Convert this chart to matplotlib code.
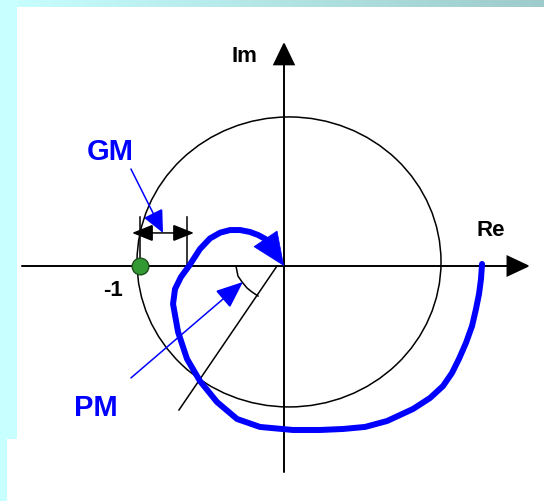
import numpy as np
import matplotlib.pyplot as plt
from matplotlib.patches import Ellipse, FancyArrowPatch

plt.rcParams['font.family'] = ['Liberation Sans', 'DejaVu Sans']

# Nyquist curve (Re, Im), clockwise from the right end
nyq_re = [1.303, 1.296, 1.283, 1.263, 1.237, 1.197, 1.151, 1.105, 1.046, 0.961,
          0.849, 0.678, 0.533, 0.388, 0.237, 0.059, -0.158, -0.309, -0.441, -0.553,
          -0.638, -0.697, -0.730, -0.717, -0.678, -0.625, -0.553, -0.487, -0.420,
          -0.355, -0.289, -0.225, -0.171, -0.120]
nyq_im = [0.014, -0.090, -0.193, -0.297, -0.414, -0.531, -0.641, -0.738, -0.828, -0.910,
          -0.986, -1.069, -1.110, -1.124, -1.131, -1.131, -1.110, -1.055, -0.938, -0.793,
          -0.641, -0.455, -0.262, -0.159, -0.076, 0.000, 0.117, 0.190, 0.230,
          0.248, 0.248, 0.235, 0.214, 0.185]
nyq_end = (0.0, 0.0)

# unit circle (slightly off centre in the drawing)
circ_c = (0.033, 0.028)
crit = (-0.95, 0.0)

# phase margin line and arc
pm_line_re = [-0.046, -0.691]
pm_line_im = [0.0, -0.993]
pm_arc_re = [-0.316, -0.303, -0.276, -0.243, -0.211, -0.171]
pm_arc_im = [0.0, -0.069, -0.110, -0.152, -0.179, -0.207]

# gain margin bracket
gm_left, gm_right = -0.947, -0.638
gm_top, gm_left_bot = 0.338, 0.048
gm_arrow_y, gm_arrow_x0, gm_arrow_x1 = 0.228, -1.0, -0.592

# pointer arrows for the labels
gm_ptr = [(-1.007, 0.669), (-0.796, 0.228)]
pm_ptr = [(-1.007, -0.772), (-0.270, -0.110)]

W, H = 544, 502
fig = plt.figure(figsize=(W / 100, H / 100), dpi=100)

# slide background: cyan strip on the left, gradient strip on top
bg = np.ones((H, W, 3))
grad = np.linspace(0, 1, W)[:, None]
top = (1 - grad) * np.array([200, 255, 255]) / 255 + grad * np.array([158, 203, 203]) / 255
bg[:8, :, :] = top[None, :, :]
bg[:440, :17, :] = np.array([200, 255, 255]) / 255
bg[440:, :7, :] = np.array([200, 255, 255]) / 255
bax = fig.add_axes([0, 0, 1, 1], zorder=0)
bax.imshow(bg, aspect='auto', interpolation='nearest')
bax.axis('off')

ax = fig.add_axes([0, 0, 1, 1], zorder=1)
ax.patch.set_alpha(0)
ax.set_xlim(-284 / 152, (W - 284) / 152)
ax.set_ylim((267 - H) / 145, 267 / 145)
ax.axis('off')

blue = '#0000ff'


def arrow(p0, p1, color, lw, hl, hw, style='-|>', z=3):
    a = FancyArrowPatch(p0, p1, arrowstyle=f'{style},head_length={hl},head_width={hw}',
                        mutation_scale=1, shrinkA=0, shrinkB=0, color=color, lw=lw,
                        joinstyle='miter', zorder=z)
    ax.add_patch(a)


# axes with arrows
arrow((-1.724, 0), (1.618, 0), 'black', 1.4, 14.5, 6.8)
arrow((0, -1.421), (0, 1.545), 'black', 1.4, 14.5, 7.0)

ax.add_patch(Ellipse(circ_c, 2, 2, fill=False, ec='black', lw=1.1, zorder=2))

# PM construction
ax.plot(pm_line_re, pm_line_im, color='black', lw=1.1, zorder=2)
ax.plot(pm_arc_re, pm_arc_im, color='black', lw=1.1, zorder=2)

# GM bracket
ax.plot([gm_left, gm_left], [gm_left_bot, gm_top], color='black', lw=1.1, zorder=2)
ax.plot([gm_right, gm_right], [0, gm_top], color='black', lw=1.1, zorder=2)
arrow((gm_arrow_x0, gm_arrow_y), (gm_arrow_x1, gm_arrow_y), 'black', 1.1, 13, 5.2,
      style='<|-|>')

# Nyquist curve with the end arrow
ax.plot(nyq_re, nyq_im, color=blue, lw=4.3, solid_capstyle='round',
        solid_joinstyle='round', zorder=4)
arrow((nyq_re[-1], nyq_im[-1]), nyq_end, blue, 0.5, 23, 10, z=5)

# critical point
ax.plot(*crit, 'o', ms=12, mfc='#339933', mec='#1f4f1f', mew=1.0, zorder=6)

# label pointers
arrow(gm_ptr[0], gm_ptr[1], blue, 1.1, 14, 6.5)
arrow(pm_ptr[0], pm_ptr[1], blue, 1.1, 17, 7)

# labels
ax.text(-0.263, 1.455, 'Im', fontsize=16, fontweight='bold', ha='center', va='center')
ax.text(1.362, 0.255, 'Re', fontsize=16, fontweight='bold', ha='center', va='center')
ax.text(-1.125, -0.159, '-1', fontsize=16, fontweight='bold', ha='center', va='center')
ax.text(-1.145, 0.793, 'GM', fontsize=21, fontweight='bold', color=blue,
        ha='center', va='center')
ax.text(-1.237, -0.972, 'PM', fontsize=21, fontweight='bold', color=blue,
        ha='center', va='center')

fig.savefig('out.png', dpi=100)
